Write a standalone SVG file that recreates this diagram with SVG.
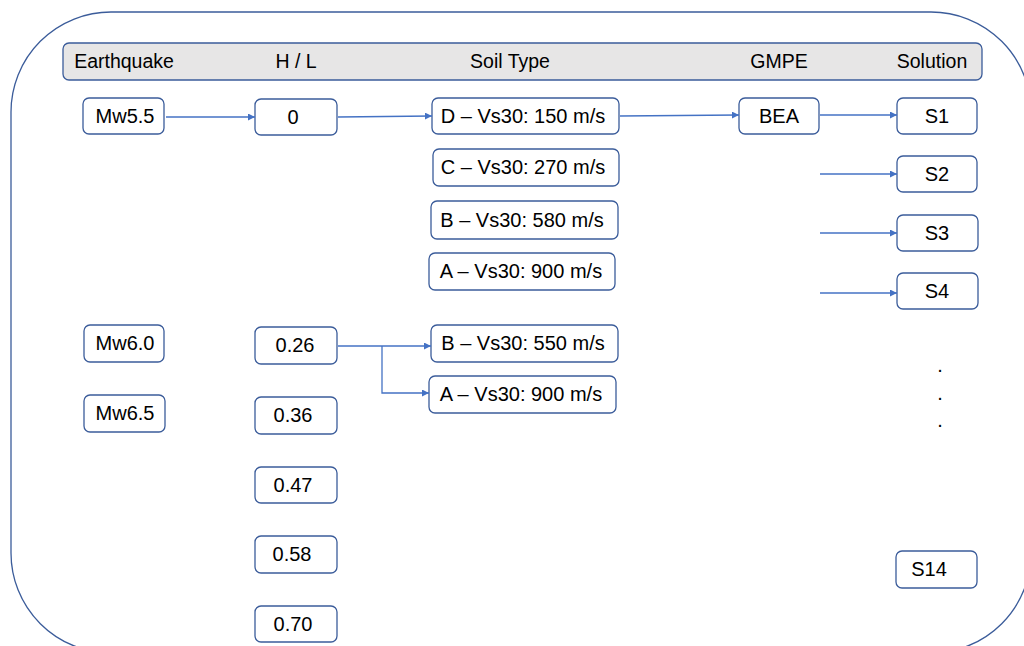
<svg xmlns="http://www.w3.org/2000/svg" width="1024" height="646" viewBox="0 0 1024 646">
  <style>
    .frame { fill: none; stroke: #3b5c9a; stroke-width: 1.3; }
    .hdr { fill: #e7e6e6; stroke: #3b5c9a; stroke-width: 1.3; }
    .box { fill: #ffffff; stroke: #3b5c9a; stroke-width: 1.3; }
    .lbl { font-family: "Liberation Sans", Arial, sans-serif; font-size: 20px; fill: #000000; text-anchor: middle; }
    .hd { font-family: "Liberation Sans", Arial, sans-serif; font-size: 19.5px; fill: #000000; text-anchor: middle; }
    .conn { fill: none; stroke: #4472c4; stroke-width: 1.3; }
  </style>
  <defs>
    <marker id="arrow" viewBox="0 0 10 10" refX="10" refY="5" markerWidth="7" markerHeight="7" markerUnits="userSpaceOnUse" orient="auto">
      <path d="M0,0 L10,5 L0,10 Z" fill="#4472c4"/>
    </marker>
  </defs>

  <!-- outer rounded frame -->
  <rect class="frame" x="11" y="12" width="1020" height="641" rx="100" ry="100"/>

  <!-- column header bar -->
  <g id="header">
    <rect class="hdr" x="63" y="43" width="919" height="37" rx="6" ry="6"/>
    <text class="hd" x="124" y="68">Earthquake</text>
    <text class="hd" x="296" y="68">H / L</text>
    <text class="hd" x="510" y="68">Soil Type</text>
    <text class="hd" x="779" y="68">GMPE</text>
    <text class="hd" x="932" y="68">Solution</text>
  </g>

  <!-- earthquake magnitudes -->
  <g id="mw55"><rect class="box" x="83" y="98" width="81" height="36" rx="6"/><text class="lbl" x="125" y="123">Mw5.5</text></g>
  <g id="mw60"><rect class="box" x="84" y="325" width="80" height="37" rx="6"/><text class="lbl" x="125" y="350">Mw6.0</text></g>
  <g id="mw65"><rect class="box" x="84" y="395" width="81" height="37" rx="6"/><text class="lbl" x="125" y="420">Mw6.5</text></g>

  <!-- H / L ratios -->
  <g id="hl0"><rect class="box" x="255" y="99" width="82" height="36" rx="6"/><text class="lbl" x="293" y="124">0</text></g>
  <g id="hl026"><rect class="box" x="255" y="327" width="82" height="37" rx="6"/><text class="lbl" x="295" y="352">0.26</text></g>
  <g id="hl036"><rect class="box" x="255" y="397" width="82" height="37" rx="6"/><text class="lbl" x="293" y="422">0.36</text></g>
  <g id="hl047"><rect class="box" x="255" y="467" width="82" height="36" rx="6"/><text class="lbl" x="293" y="492">0.47</text></g>
  <g id="hl058"><rect class="box" x="255" y="536" width="82" height="37" rx="6"/><text class="lbl" x="292" y="561">0.58</text></g>
  <g id="hl070"><rect class="box" x="255" y="606" width="82" height="36" rx="6"/><text class="lbl" x="293" y="631">0.70</text></g>

  <!-- soil types -->
  <g id="soilD"><rect class="box" x="432" y="98" width="187" height="36" rx="6"/><text class="lbl" x="523" y="123">D – Vs30: 150 m/s</text></g>
  <g id="soilC"><rect class="box" x="433" y="149" width="186" height="37" rx="6"/><text class="lbl" x="523" y="174">C – Vs30: 270 m/s</text></g>
  <g id="soilB"><rect class="box" x="431" y="201" width="187" height="38" rx="6"/><text class="lbl" x="522" y="227">B – Vs30: 580 m/s</text></g>
  <g id="soilA"><rect class="box" x="429" y="253" width="186" height="37" rx="6"/><text class="lbl" x="521" y="278">A – Vs30: 900 m/s</text></g>
  <g id="soilB2"><rect class="box" x="431" y="325" width="187" height="37" rx="6"/><text class="lbl" x="523" y="350">B – Vs30: 550 m/s</text></g>
  <g id="soilA2"><rect class="box" x="429" y="376" width="187" height="37" rx="6"/><text class="lbl" x="521" y="401">A – Vs30: 900 m/s</text></g>

  <!-- GMPE -->
  <g id="bea"><rect class="box" x="739" y="98" width="80" height="36" rx="6"/><text class="lbl" x="779" y="123">BEA</text></g>

  <!-- solutions -->
  <g id="s1"><rect class="box" x="897" y="98" width="80" height="36" rx="6"/><text class="lbl" x="937" y="123">S1</text></g>
  <g id="s2"><rect class="box" x="897" y="156" width="80" height="36" rx="6"/><text class="lbl" x="937" y="181">S2</text></g>
  <g id="s3"><rect class="box" x="897" y="215" width="81" height="36" rx="6"/><text class="lbl" x="937" y="240">S3</text></g>
  <g id="s4"><rect class="box" x="897" y="273" width="81" height="36" rx="6"/><text class="lbl" x="937" y="298">S4</text></g>
  <g id="dots">
    <text class="lbl" x="940" y="372">.</text>
    <text class="lbl" x="940" y="400">.</text>
    <text class="lbl" x="940" y="427">.</text>
  </g>
  <g id="s14"><rect class="box" x="896" y="551" width="81" height="37" rx="6"/><text class="lbl" x="929" y="576">S14</text></g>

  <!-- connectors -->
  <g id="connectors">
    <line class="conn" x1="166" y1="117" x2="255" y2="117" marker-end="url(#arrow)"/>
    <line class="conn" x1="338" y1="117" x2="432" y2="116" marker-end="url(#arrow)"/>
    <line class="conn" x1="620" y1="116" x2="739" y2="115" marker-end="url(#arrow)"/>
    <line class="conn" x1="820" y1="115" x2="897" y2="115" marker-end="url(#arrow)"/>
    <line class="conn" x1="820" y1="174" x2="897" y2="174" marker-end="url(#arrow)"/>
    <line class="conn" x1="820" y1="233" x2="897" y2="233" marker-end="url(#arrow)"/>
    <line class="conn" x1="820" y1="293" x2="897" y2="293" marker-end="url(#arrow)"/>
    <polyline class="conn" points="338,346 431,346" marker-end="url(#arrow)"/>
    <polyline class="conn" points="382,346 382,393 429,393" marker-end="url(#arrow)"/>
  </g>
</svg>
